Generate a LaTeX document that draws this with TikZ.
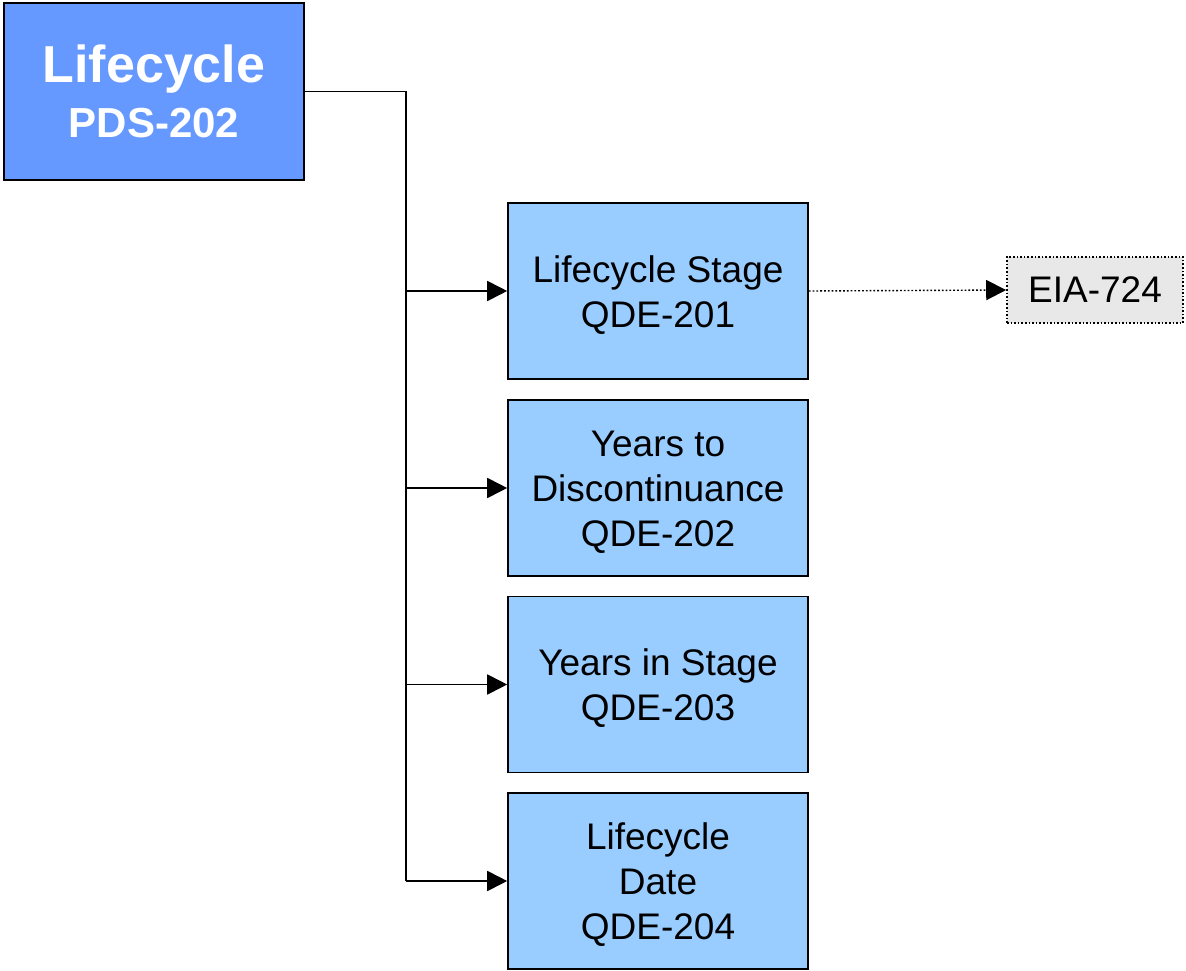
\documentclass[tikz,border=0pt]{standalone}
\usepackage{fontspec}
\setmainfont{Liberation Sans}
\usetikzlibrary{arrows.meta}
\definecolor{mainblue}{HTML}{6699FF}
\definecolor{childblue}{HTML}{99CCFF}
\definecolor{stdgray}{HTML}{E8E8E8}
\begin{document}
\begin{tikzpicture}[x=1pt,y=-1pt,
  mainbox/.style={draw=black,line width=2pt,fill=mainblue,minimum width=300pt,minimum height=177pt,inner sep=0pt,align=center,text=white,font=\fontsize{44}{53}\selectfont\bfseries},
  childbox/.style={draw=black,line width=1.6pt,fill=childblue,minimum width=300pt,minimum height=176pt,inner sep=0pt},
  childtext/.style={align=center,inner sep=0pt,yshift=-4pt,font=\fontsize{37}{45}\selectfont},
  stdbox/.style={draw=black,dotted,line width=1.6pt,fill=stdgray,minimum width=176pt,minimum height=66pt,inner sep=0pt,align=center,font=\fontsize{37}{45}\selectfont},
  conn/.style={line width=1.8pt,-{Triangle[length=20pt,width=20pt]}},
  trunk/.style={line width=1.8pt}]
\useasboundingbox (0,0) rectangle (1186,971);
\node[mainbox] (main) at (154,91.5) {{\fontsize{52}{53}\selectfont Lifecycle}\\[2pt]{\fontsize{42}{45}\selectfont PDS-202}};
\node[childbox,label={[childtext]center:{Lifecycle Stage\\QDE-201}}] (c1) at (658,291) {};
\node[childbox,label={[childtext]center:{Years to\\Discontinuance\\QDE-202}}] (c2) at (658,488) {};
\node[childbox,label={[childtext]center:{Years in Stage\\QDE-203}}] (c3) at (658,684.5) {};
\node[childbox,label={[childtext]center:{Lifecycle\\Date\\QDE-204}}] (c4) at (658,881) {};
\node[stdbox] (eia) at (1095,290) {EIA-724};
\coordinate (tb) at (406,881);
\draw[trunk] (main.east) -| (tb);
\draw[conn] (tb |- c1.west) -- (c1.west);
\draw[conn] (tb |- c2.west) -- (c2.west);
\draw[conn] (tb |- c3.west) -- (c3.west);
\draw[conn] (tb) -- (c4.west);
\draw[conn,dotted,line width=1.4pt] (c1.east) -- (eia.west);
\end{tikzpicture}
\end{document}
